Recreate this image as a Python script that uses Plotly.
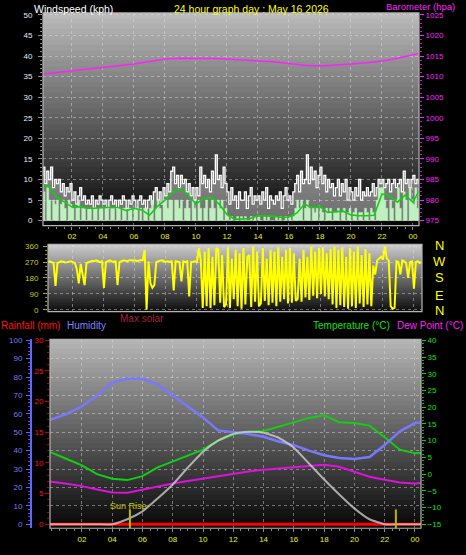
import numpy as np
import plotly.graph_objects as go

# ---------------- DATA ----------------
tick_hours = [2, 4, 6, 8, 10, 12, 14, 16, 18, 20, 22, 24]
tick_text = ["02", "04", "06", "08", "10", "12", "14", "16", "18", "20", "22", "00"]

# wind samples every 7.5 minutes (hours since midnight)
wind_hours = np.arange(197) * 0.125
gust_kph = [
    11, 13, 9, 12, 10, 13, 8, 10,
    9, 10, 7, 9, 6, 8, 7, 9,
    5, 7, 4, 6, 8, 5, 6, 4,
    5, 4, 6, 3, 5, 4, 6, 5,
    4, 5, 3, 5, 6, 4, 5, 3,
    5, 4, 6, 5, 3, 5, 4, 6,
    5, 3, 5, 6, 4, 5, 3, 5,
    6, 4, 7, 8, 5, 7, 4, 8,
    6, 9, 7, 12, 13, 9, 11, 8,
    11, 9, 10, 7, 9, 6, 8, 5,
    8, 6, 13, 9, 11, 8, 10, 7,
    12, 9, 16, 10, 11, 8, 13, 9,
    7, 4, 8, 5, 6, 3, 7, 5,
    5, 7, 3, 6, 8, 4, 6, 5,
    6, 4, 7, 5, 8, 3, 6, 5,
    4, 6, 5, 7, 3, 6, 8, 5,
    6, 4, 7, 9, 11, 7, 12, 9,
    10, 16, 9, 13, 10, 12, 8, 11,
    13, 9, 11, 7, 10, 8, 9, 6,
    8, 10, 6, 9, 7, 10, 5, 8,
    7, 5, 8, 6, 10, 5, 7, 6,
    8, 6, 7, 9, 6, 8, 10, 9,
    10, 8, 9, 10, 7, 9, 10, 8,
    9, 10, 7, 12, 9, 10, 8, 10,
    11, 9, 10, 9, 10,
]
speed_kph = [
    9, 7, 0, 8, 5, 0, 5, 4,
    5, 0, 4, 5, 3, 0, 5, 4,
    3, 0, 3, 5, 0, 3, 3, 0,
    3, 3, 0, 3, 3, 0, 3, 3,
    0, 3, 3, 0, 3, 3, 0, 3,
    3, 0, 3, 3, 0, 3, 3, 0,
    3, 3, 0, 3, 0, 3, 3, 0,
    3, 5, 0, 3, 5, 3, 0, 5,
    5, 3, 5, 5, 0, 5, 5, 3,
    5, 0, 3, 5, 3, 0, 5, 3,
    0, 5, 3, 0, 3, 5, 0, 3,
    5, 3, 0, 5, 3, 5, 0, 3,
    1, 0, 1, 0, 0, 1, 0, 1,
    0, 1, 0, 0, 1, 0, 1, 0,
    1, 0, 0, 1, 0, 1, 0, 0,
    0, 1, 0, 1, 0, 0, 1, 0,
    1, 0, 1, 3, 5, 3, 5, 0,
    3, 5, 3, 0, 3, 2, 3, 0,
    3, 2, 0, 3, 2, 3, 0, 2,
    2, 3, 0, 2, 3, 0, 2, 3,
    0, 2, 3, 0, 2, 2, 0, 3,
    2, 0, 3, 2, 0, 5, 8, 8,
    8, 5, 3, 0, 5, 3, 0, 5,
    8, 3, 0, 7, 5, 0, 8, 5,
    4, 8, 3, 8, 6,
]
avg_hours = np.arange(50) * 0.5
avg_kph = [
    9.0, 8.3, 5.8, 4.6, 3.3, 3.4, 3.0, 3.0, 3.2, 3.2,
    3.2, 2.4, 3.0, 2.6, 1.3, 3.4, 5.0, 7.0, 7.8, 6.3,
    4.0, 5.4, 5.6, 4.0, 1.5, 0.3, 0.4, 0.5, 1.2, 1.2,
    1.1, 0.8, 0.9, 1.8, 4.0, 3.2, 3.4, 2.0, 2.2, 2.3,
    1.4, 1.2, 1.2, 1.3, 6.5, 6.0, 4.5, 6.2, 4.5, 8.0,
]
baro_hours = np.append(np.arange(25), 24.5)
baro_hpa = [
    1010.6, 1011.0, 1011.5, 1011.9, 1012.2, 1012.6, 1013.1, 1013.7, 1014.3,
    1014.5, 1014.5, 1014.4, 1014.3, 1014.1, 1013.9, 1013.6, 1013.2, 1012.8,
    1012.6, 1012.8, 1013.1, 1013.4, 1013.8, 1014.5, 1015.3, 1015.7,
]

dir_hours = np.arange(197) * 0.125
wind_dir = [
    270, 270, 272, 268, 275, 270, 265, 135,
    265, 270, 275, 272, 268, 270, 272, 275,
    270, 265, 230, 150, 260, 200, 140, 265,
    270, 275, 278, 275, 280, 275, 270, 275,
    123, 270, 275, 280, 275, 270, 278, 140,
    270, 275, 280, 278, 275, 280, 282, 278,
    280, 275, 278, 282, 280, 340, 0, 275,
    150, 125, 140, 270, 275, 278, 280, 275,
    272, 275, 270, 278, 110, 275, 272, 270,
    160, 275, 270, 275, 75, 270, 272, 275,
    270, 350, 280, 10, 330, 20, 350, 10,
    300, 25, 350, 340, 40, 310, 15, 30,
    355, 10, 290, 60, 340, 20, 320, 5,
    350, 30, 300, 310, 15, 360, 45, 330,
    20, 35, 350, 50, 290, 25, 340, 40,
    330, 20, 355, 45, 300, 60, 340, 35,
    350, 40, 320, 50, 60, 290, 45, 340,
    70, 300, 55, 360, 80, 330, 65, 350,
    90, 355, 75, 320, 60, 345, 30, 360,
    10, 340, 25, 355, 15, 300, 5, 350,
    20, 330, 10, 360, 35, 310, 15, 345,
    30, 320, 20, 250, 200, 280, 290, 300,
    285, 360, 290, 280, 20, 5, 10, 275,
    270, 200, 280, 275, 265, 180, 270, 275,
    120, 270, 275, 265, 270,
]

th_hours = np.arange(-1, 26)
humidity = [56, 57, 60, 64, 70, 77, 79, 79, 76, 70, 64, 58, 51, 50, 49, 47.5,
            45, 43, 40, 37.5, 36, 35.5, 36.5, 43, 50.5, 55, 56]
temperature = [7.0, 6.4, 4.5, 2.6, 0.0, -1.4, -1.8, -0.6, 2.0, 3.8, 5.5, 7.3, 10.1,
               11.8, 12.6, 12.9, 14.2, 15.4, 16.8, 17.6, 15.5, 15.3, 14.5, 11.0,
               7.3, 6.2, 6.5]
dew_point = [-2.0, -2.3, -2.9, -3.6, -4.6, -5.5, -5.6, -4.6, -3.6, -2.8, -2.1, -1.4,
             -0.6, 0.2, 0.8, 1.3, 1.7, 2.1, 2.6, 2.8, 2.2, 0.6, -0.8, -1.7, -2.5,
             -2.8, -2.5]
max_solar = [0, 0, 0, 0, 0, 0, 27, 70, 140, 216, 308, 394, 454, 491, 502, 497, 470,
             416, 330, 243, 162, 86, 27, 0, 0, 0, 0]
rainfall = [0] * 27
sun_rise_hour = 5.17
sun_set_hour = 22.74

# ---------------- LAYOUT HELPERS ----------------
W, H = 466, 555
FONT = "Liberation Sans, Arial, sans-serif"


def px(x):
    return x / W


def py(y):
    return 1 - y / H


GRID = "rgba(225,225,225,0.45)"

fig = go.Figure()

# Wind panel
fig.add_trace(go.Scatter(x=wind_hours, y=gust_kph, mode="lines", fill="tozeroy",
                         fillcolor="rgba(235,235,235,0.45)",
                         line=dict(color="#ffffff", width=1.3, shape="hv"),
                         xaxis="x", yaxis="y", hoverinfo="skip"))
fig.add_trace(go.Scatter(x=wind_hours, y=speed_kph, mode="lines", fill="tozeroy", fillcolor="#bff0bf",
                         line=dict(color="#bff0bf", width=0.5, shape="hv"), xaxis="x", yaxis="y", hoverinfo="skip"))
fig.add_trace(go.Scatter(x=avg_hours, y=avg_kph, mode="lines", line=dict(color="#10d010", width=1.6),
                         xaxis="x", yaxis="y", hoverinfo="skip"))
fig.add_trace(go.Scatter(x=baro_hours, y=baro_hpa, mode="lines", line=dict(color="#ff20ff", width=1.5),
                         xaxis="x", yaxis="y2", hoverinfo="skip"))

# Direction panel
fig.add_trace(go.Scatter(x=dir_hours, y=wind_dir, mode="lines", line=dict(color="#ffff00", width=2),
                         xaxis="x2", yaxis="y3", hoverinfo="skip"))

# Bottom panel
fig.add_trace(go.Scatter(x=th_hours, y=rainfall, mode="lines", line=dict(color="#ff0000", width=3),
                         xaxis="x3", yaxis="y5", hoverinfo="skip"))
fig.add_trace(go.Scatter(x=th_hours, y=max_solar, mode="lines", line=dict(color="rgba(215,215,215,0.75)", width=2,
                                                                           shape="spline", smoothing=0.5),
                         xaxis="x3", yaxis="y7", hoverinfo="skip"))
fig.add_trace(go.Scatter(x=th_hours, y=humidity, mode="lines", line=dict(color="#7878ff", width=2.5),
                         xaxis="x3", yaxis="y4", hoverinfo="skip"))
fig.add_trace(go.Scatter(x=th_hours, y=temperature, mode="lines", line=dict(color="#10d010", width=2),
                         xaxis="x3", yaxis="y6", hoverinfo="skip"))
fig.add_trace(go.Scatter(x=th_hours, y=dew_point, mode="lines", line=dict(color="#e010e0", width=2),
                         xaxis="x3", yaxis="y6", hoverinfo="skip"))

shapes = []


def gradient(xd, yd, top, bot, n=40):
    for i in range(n):
        g = int(round(bot + (top - bot) * (i + 0.5) / n))
        y1 = min(1.0, (i + 1.6) / n)
        shapes.append(dict(type="rect", xref=f"{xd} domain", yref=f"{yd} domain", x0=0, x1=1,
                           y0=i / n, y1=y1, fillcolor=f"rgb({g},{g},{g})",
                           line=dict(width=0, color=f"rgb({g},{g},{g})"), layer="below"))
    shapes.append(dict(type="rect", xref=f"{xd} domain", yref=f"{yd} domain", x0=0, x1=1, y0=0, y1=1,
                       fillcolor="rgba(0,0,0,0)", line=dict(color="#b4b4b4", width=1.2), layer="above"))


gradient("x", "y", 188, 4)
gradient("x2", "y3", 205, 12)
gradient("x3", "y6", 182, 6)

for hr in (sun_rise_hour, sun_set_hour):
    shapes.append(dict(type="line", xref="x3", yref="y6 domain", x0=hr, x1=hr, y0=0.0, y1=0.1,
                       line=dict(color="#b8b800", width=2), layer="above"))

xaxis_common = dict(tickmode="array", tickvals=tick_hours, ticktext=tick_text,
                    tickfont=dict(size=8, color="#f0f000", family=FONT), ticks="outside", ticklen=3,
                    tickcolor="#8a8a8a", showgrid=True, gridcolor=GRID, griddash="dot", zeroline=False,
                    showline=False, fixedrange=True)


def minor(vals, color, ln=2):
    return dict(tickmode="array", tickvals=vals, ticks="outside", ticklen=ln, tickcolor=color, showgrid=False)


half_hours = [h * 0.5 for h in range(0, 50)]

fig.update_layout(
    width=W, height=H, margin=dict(l=0, r=0, t=0, b=0),
    paper_bgcolor="black", plot_bgcolor="black", showlegend=False,
    font=dict(family=FONT),
    shapes=shapes,
    xaxis=dict(xaxis_common, domain=[px(43), px(419)], anchor="y", range=[0.13, 24.39],
               minor=minor(half_hours, "#8a8a8a")),
    yaxis=dict(domain=[py(225), py(10)], anchor="x", range=[-1.2, 50.5], tickmode="array",
               tickvals=list(range(0, 51, 5)), tickfont=dict(size=8, color="#e4ecff", family=FONT),
               ticks="outside", ticklen=4, tickcolor="#8a8a8a", ticklabelstandoff=4,
               minor=minor(list(range(0, 51)), "#8a8a8a"),
               showgrid=True, gridcolor=GRID, griddash="dot", zeroline=False, showline=False),
    yaxis2=dict(overlaying="y", anchor="x", side="right", range=[973.8, 1025.5], tickmode="array",
                tickvals=list(range(975, 1026, 5)), tickfont=dict(size=8, color="#ff20ff", family=FONT),
                ticks="outside", ticklen=4, tickcolor="#ff20ff",
                minor=minor(list(range(975, 1026)), "#c010c0"),
                showgrid=False, zeroline=False, showline=False),
    xaxis2=dict(domain=[px(48), px(422)], anchor="y3", range=[0.39, 24.52], tickmode="array",
                tickvals=tick_hours, showticklabels=False, ticks="", showgrid=True, gridcolor=GRID,
                griddash="dot", zeroline=False, showline=False),
    yaxis3=dict(domain=[py(312), py(244)], anchor="x2", range=[-11, 371], tickmode="array",
                tickvals=[0, 90, 180, 270, 360], tickfont=dict(size=8, color="#c8c800", family=FONT),
                ticks="outside", ticklen=4, tickcolor="#b0b000", ticklabelstandoff=3,
                minor=minor([i * 22.5 for i in range(17)], "#a0a000"),
                showgrid=True, gridcolor=GRID, griddash="dot", zeroline=False, showline=False),
    xaxis3=dict(xaxis_common, domain=[px(50), px(421)], anchor="y6", range=[-0.11, 24.4],
                minor=minor(half_hours, "#8a8a8a")),
    yaxis6=dict(domain=[py(531), py(340)], anchor="x3", side="right", range=[-16.2, 40.3], tickmode="array",
                tickvals=list(range(-15, 41, 5)), tickfont=dict(size=8, color="#10e010", family=FONT),
                ticks="outside", ticklen=4, tickcolor="#10d010",
                minor=minor(list(range(-15, 41)), "#10b010"),
                showgrid=False, zeroline=False, showline=False),
    yaxis4=dict(overlaying="y6", anchor="free", position=px(31), side="left", range=[-2.2, 100.5],
                tickmode="array", tickvals=list(range(0, 101, 10)),
                tickfont=dict(size=8, color="#7878ff", family=FONT), ticks="outside", ticklen=4,
                tickcolor="#6060ff", ticklabelstandoff=2, minor=minor(list(range(0, 101, 2)), "#5050e0"),
                showline=True, linecolor="#6464ff", linewidth=2,
                showgrid=True, gridcolor=GRID, griddash="dot", zeroline=False),
    yaxis5=dict(overlaying="y6", anchor="x3", side="left", range=[-0.65, 30.15], tickmode="array",
                tickvals=list(range(0, 31, 5)), tickfont=dict(size=8, color="#ff1010", family=FONT),
                ticks="outside", ticklen=4, tickcolor="#c00000",
                minor=minor(list(range(0, 31)), "#b00000"),
                showgrid=False, zeroline=False, showline=False),
    yaxis7=dict(overlaying="y6", anchor="x3", range=[-22, 1005], visible=False),
)

ann = []


def label(text, x, y, color, size, xanchor="left"):
    ann.append(dict(text=text, x=px(x), y=py(y), xref="paper", yref="paper", xanchor=xanchor,
                    yanchor="middle", showarrow=False, borderpad=0,
                    font=dict(color=color, size=size, family=FONT)))


label("Windspeed (kph)", 33, 6, "#ffffff", 10.5)
label("24 hour graph day : May 16 2026", 251, 6, "#ffff00", 10.5, "center")
label("Barometer (hpa)", 456, 3.5, "#ff20ff", 9.5, "right")
for letter, yy in zip(["N", "W", "S", "E", "N"], [245, 261, 278, 295.5, 310.5]):
    label(letter, 439, yy, "#ffff00", 13, "center")
label("Rainfall (mm)", 0, 326, "#ff1010", 10)
label("Humidity", 66, 326, "#8080ff", 10)
label("Max solar", 119, 319, "#a8203c", 10)
label("Temperature (°C)", 312, 326, "#10e010", 10)
label("Dew Point (°C)", 464, 326, "#ff20ff", 10, "right")
label("Sun Rise", 128, 508, "#c8c800", 9, "center")

fig.update_layout(annotations=ann)
fig.write_html("out.html", config={"displayModeBar": False},
               post_script="document.body.style.margin='0px';document.body.style.padding='0px';")
